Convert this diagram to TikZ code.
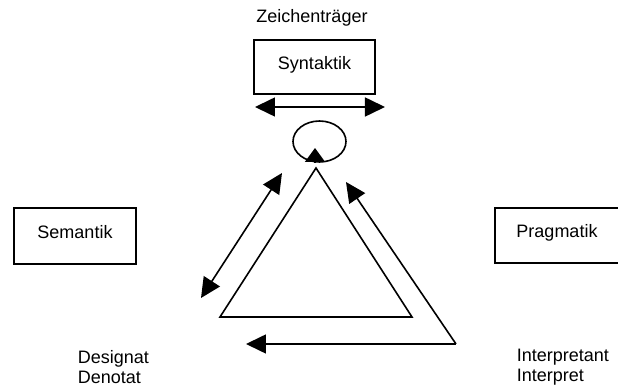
\documentclass[tikz,border=0pt]{standalone}
\usepackage{fontspec}
\setmainfont{Liberation Sans}
\usetikzlibrary{arrows.meta,shapes.geometric}
\begin{document}
\begin{tikzpicture}[x=0.5pt,y=-0.5pt,line width=0.8pt,
    font=\fontsize{9}{10}\selectfont,
    feld/.style={draw,inner sep=0pt,text depth=4.5pt},
    pfeil/.style={-{Triangle[length=10pt,width=9.5pt]}},
    doppelpfeil/.style={{Triangle[length=10pt,width=9.5pt]}-{Triangle[length=10pt,width=9.5pt]}}]
      \clip (0,0) rectangle (618,390);

      \node (zeichen) at (312,17.5) {Zeichenträger};
      \node[feld,minimum width=60.5pt,minimum height=27pt] (syn)  at (314.5,67)  {Syntaktik};
      \node[feld,minimum width=61pt,minimum height=28pt]   (sem)  at (75,236)    {Semantik};
      \node[feld,minimum width=62pt,minimum height=27.5pt] (prag) at (557,235.5) {Pragmatik};
      \node[align=left,anchor=west,inner sep=0pt] (designat)     at (77,367.5)  {Designat\\Denotat};
      \node[align=left,anchor=west,inner sep=0pt] (interpretant) at (516,367.5) {Interpretant\\Interpret};

      % Kreis unter Syntaktik
      \node[draw,ellipse,inner sep=0pt,minimum width=26.5pt,minimum height=20.5pt] (kreis) at (319.5,141.5) {};
      \coordinate (kreisfuss) at (315,163);
      \draw[-{Triangle[length=7pt,width=10pt]}] (kreisfuss) -- ++(0,-15);

      % Dreieck
      \coordinate (spitze) at (316,168);
      \coordinate (links)  at (220,317);
      \coordinate (rechts) at (412,317);
      \draw (spitze) -- (links) -- (rechts) -- cycle;

      % Pfeile
      \coordinate (h1) at (255,107);
      \coordinate (h2) at (385,107);
      \coordinate (l1) at (282,173);
      \coordinate (l2) at (201,298);
      \coordinate (ecke) at (456,344);
      \coordinate (r1) at (346,182);
      \coordinate (u1) at (246,344);

      \draw[doppelpfeil] (h1) -- (h2);
      \draw[doppelpfeil] (l1) -- (l2);
      \draw[pfeil] (ecke) -- (r1);
      \draw[pfeil] (ecke) -- (u1);
\end{tikzpicture}
\end{document}
